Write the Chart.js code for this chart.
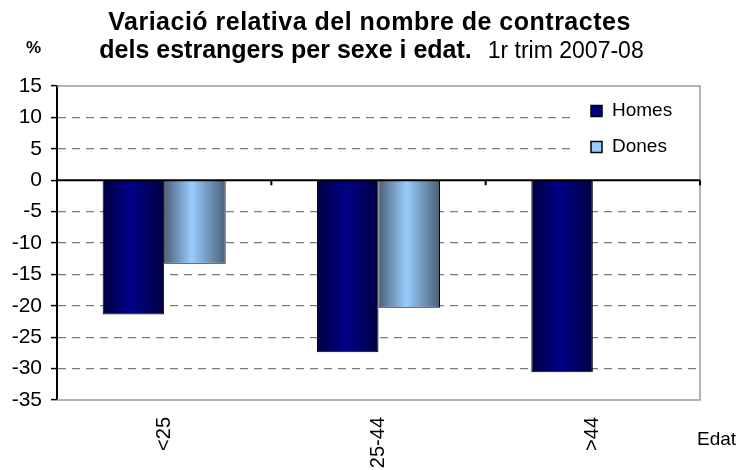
<!DOCTYPE html>
<html lang="ca">
<head>
<meta charset="UTF-8">
<title>Variació relativa del nombre de contractes</title>
<script src="https://cdn.jsdelivr.net/npm/chart.js"></script>
<style>
  body { margin: 0; background: #fff; }
  .grafic { position: relative; width: 739px; height: 470px; }
</style>
</head>
<body>
<div class="grafic"><canvas id="grafic"></canvas></div>
<script>
const edats = ['<25', '25-44', '>44'];
const homes = [-21.4, -27.4, -30.6];
const dones = [-13.3, -20.3, null];
const valorsY = [15, 10, 5, 0, -5, -10, -15, -20, -25, -30, -35];

const titol1 = 'Variació relativa del nombre de contractes';
const titol2 = 'dels estrangers per sexe i edat.';
const titol2b = '1r trim 2007-08';
const lletra = '"Liberation Sans", Arial, sans-serif';

// degradat horitzontal dins de cada barra (com l'Excel)
function degradat(colors) {
    return function (context) {
        const el = context.element;
        if (!el || !el.width) return colors[1];
        const g = context.chart.ctx.createLinearGradient(el.x - el.width / 2, 0, el.x + el.width / 2, 0);
        g.addColorStop(0, colors[0]);
        g.addColorStop(0.45, colors[1]);
        g.addColorStop(1, colors[2]);
        return g;
    };
}

const marc = {
    id: 'marc',
    afterDatasetsDraw(chart) {
        const { ctx, chartArea: a, scales: { x, y } } = chart;
        ctx.save();
        // fons blanc de la llegenda (tapa la quadrícula)
        ctx.fillStyle = '#fff';
        ctx.fillRect(572, 92, a.right - 573, 72);

        ctx.strokeStyle = '#9a9a9a';
        ctx.lineWidth = 1.5;
        ctx.beginPath();
        ctx.moveTo(a.left, a.top); ctx.lineTo(a.right, a.top);
        ctx.lineTo(a.right, a.bottom); ctx.lineTo(a.left, a.bottom);
        ctx.stroke();

        const y0 = y.getPixelForValue(0);
        ctx.strokeStyle = '#000';
        ctx.lineWidth = 2;
        ctx.beginPath();
        ctx.moveTo(a.left, y0); ctx.lineTo(a.right, y0);
        const mig = (x.getPixelForValue(1) - x.getPixelForValue(0)) / 2;
        for (let i = 0; i < edats.length; i++) {
            const px = x.getPixelForValue(i) + mig;
            ctx.moveTo(px, y0); ctx.lineTo(px, y0 + 5);
        }
        ctx.stroke();
        ctx.restore();
    },
    afterDraw(chart) {
        const ctx = chart.ctx;
        const w = chart.width;
        ctx.save();
        ctx.fillStyle = '#000';
        ctx.textBaseline = 'alphabetic';

        // títol
        ctx.textAlign = 'center';
        ctx.font = 'bold 25px ' + lletra;
        ctx.letterSpacing = '0.5px';
        ctx.fillText(titol1, w / 2, 30);
        ctx.letterSpacing = '0px';

        ctx.textAlign = 'left';
        ctx.font = 'bold 25px ' + lletra;
        const w1 = ctx.measureText(titol2).width;
        ctx.font = '23px ' + lletra;
        const w2 = ctx.measureText(titol2b).width;
        const gap = 16;
        let x0 = w / 2 + 2 - (w1 + gap + w2) / 2;
        ctx.font = 'bold 25px ' + lletra;
        ctx.fillText(titol2, x0, 58);
        ctx.font = '23px ' + lletra;
        ctx.fillText(titol2b, x0 + w1 + gap, 58);

        ctx.font = 'bold 17px ' + lletra;
        ctx.fillText('%', 26, 53);

        // nom de l'eix x
        ctx.font = '19px ' + lletra;
        ctx.textBaseline = 'middle';
        ctx.fillText('Edat', 697, 440);

        // llegenda
        const items = [['Homes', '#000080', 111], ['Dones', '#99ccff', 147]];
        items.forEach(([nom, color, yy]) => {
            ctx.fillStyle = color;
            ctx.fillRect(591, yy - 5.5, 11, 11);
            ctx.strokeStyle = '#000';
            ctx.lineWidth = 1.5;
            ctx.strokeRect(591, yy - 5.5, 11, 11);
            ctx.fillStyle = '#000';
            ctx.fillText(nom, 612, yy);
        });
        ctx.restore();
    }
};

const dades = {
    labels: edats,
    datasets: [
        {
            label: 'Homes',
            data: homes,
            backgroundColor: degradat(['#00003f', '#000088', '#000040']),
            borderColor: '#000',
            borderWidth: 1
        },
        {
            label: 'Dones',
            data: dones,
            backgroundColor: degradat(['#4a6078', '#99ccff', '#4a6078']),
            borderColor: '#000',
            borderWidth: 1
        }
    ]
};

const config = {
    type: 'bar',
    data: dades,
    options: {
        responsive: true,
        maintainAspectRatio: false,
        animation: false,
        categoryPercentage: 0.574,
        barPercentage: 1,
        layout: { padding: { top: 86, right: 39, left: 0, bottom: 0 } },
        plugins: {
            legend: { display: false },
            tooltip: { enabled: false },
            title: { display: false }
        },
        scales: {
            x: {
                grid: { display: false, drawTicks: false },
                border: { display: false },
                ticks: {
                    color: '#000',
                    font: { family: lletra, size: 20 },
                    minRotation: 90,
                    maxRotation: 90,
                    padding: 17,
                    autoSkip: false
                },
                afterFit: s => { s.height = 70; }
            },
            y: {
                min: valorsY[valorsY.length - 1],
                max: valorsY[0],
                afterBuildTicks: s => { s.ticks = valorsY.map(v => ({ value: v })); },
                ticks: {
                    color: '#000',
                    font: { family: lletra, size: 21 },
                    padding: 9
                },
                grid: {
                    color: c => (c.tick && [15, 0, -35].includes(c.tick.value)) ? 'rgba(0,0,0,0)' : '#7a7a7a',
                    lineWidth: 1.2,
                    tickColor: '#000',
                    tickLength: 6,
                    tickWidth: 1.5,
                    tickBorderDash: []
                },
                border: { dash: [8, 6], color: '#000', width: 2 },
                afterFit: s => { s.width = 57; }
            }
        }
    },
    plugins: [marc]
};

let grafic = new Chart(document.getElementById('grafic'), config);
grafic.update(); // segona passada perquè el degradat conegui la posició de cada barra
</script>
</body>
</html>
